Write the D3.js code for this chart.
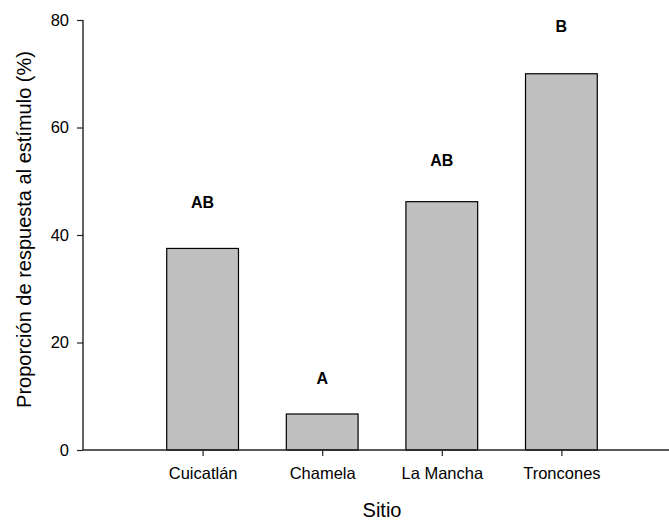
<!DOCTYPE html>
<html>
<head>
<meta charset="utf-8">
<script src="https://cdn.jsdelivr.net/npm/d3@7"></script>
<style>
  html, body { margin: 0; padding: 0; background: #fff; }
  svg { display: block; font-family: "Liberation Sans", Arial, sans-serif; }
</style>
</head>
<body>
<svg id="chart" width="669" height="521"></svg>
<script>
// Sites and response proportions (%)
const sites = ["Cuicatlán", "Chamela", "La Mancha", "Troncones"];
const sitePos = [1, 2, 3, 4];
const response = [37.5, 6.7, 46.2, 70.0];
// Significance groups and the height (in %) at which each letter sits
const groups = ["AB", "A", "AB", "B"];
const groupY = [45.0, 12.3, 52.8, 77.7];
const yTicks = [0, 20, 40, 60, 80];

const svg = d3.select("#chart");

const x = d3.scaleLinear().domain([0, 5]).range([83, 681]);
const y = d3.scaleLinear().domain([0, 80]).range([450, 20]);
const barW = x(0.6) - x(0);

// Bars
svg.append("g").selectAll("rect")
  .data(response)
  .join("rect")
  .attr("x", (d, i) => x(sitePos[i]) - barW / 2)
  .attr("y", d => y(d))
  .attr("width", barW)
  .attr("height", d => y(0) - y(d))
  .attr("fill", "#c0c0c0")
  .attr("stroke", "#000")
  .attr("stroke-width", 1.2);

// Y axis
const yAxis = svg.append("g")
  .attr("transform", `translate(${x(0)},0)`)
  .call(d3.axisLeft(y).tickValues(yTicks).tickSize(6).tickPadding(8).tickFormat(d3.format("d")));
yAxis.select(".domain").attr("stroke", "#222").attr("stroke-width", 1.4).attr("d", `M0,${y(80)}V${y(0)}`);
yAxis.selectAll(".tick line").attr("stroke", "#222").attr("stroke-width", 1.2);
yAxis.selectAll(".tick text").attr("font-size", "16.5px").attr("fill", "#000")
  .attr("font-family", "'Liberation Sans', Arial, sans-serif");

// X axis
const xAxis = svg.append("g")
  .attr("transform", `translate(0,${y(0)})`)
  .call(d3.axisBottom(x).tickValues(sitePos).tickSize(6).tickPadding(11)
    .tickFormat((d, i) => sites[i]));
xAxis.select(".domain").attr("stroke", "#222").attr("stroke-width", 1.4).attr("d", `M${x(0)},0H${x(5)}`);
xAxis.selectAll(".tick line").attr("stroke", "#222").attr("stroke-width", 1.2);
xAxis.selectAll(".tick text").attr("font-size", "16.5px").attr("fill", "#000")
  .attr("font-family", "'Liberation Sans', Arial, sans-serif");

// Group letters
svg.append("g").selectAll("text")
  .data(groups)
  .join("text")
  .attr("x", (d, i) => x(sitePos[i]))
  .attr("y", (d, i) => y(groupY[i]))
  .attr("text-anchor", "middle")
  .attr("font-size", "16px")
  .attr("font-weight", "bold")
  .text(d => d);

// Axis titles
svg.append("text")
  .attr("x", 382)
  .attr("y", 517)
  .attr("text-anchor", "middle")
  .attr("font-size", "20px")
  .text("Sitio");

svg.append("text")
  .attr("transform", "translate(30.5,229.5) rotate(-90)")
  .attr("text-anchor", "middle")
  .attr("font-size", "20px")
  .text("Proporción de respuesta al estímulo (%)");
</script>
</body>
</html>
